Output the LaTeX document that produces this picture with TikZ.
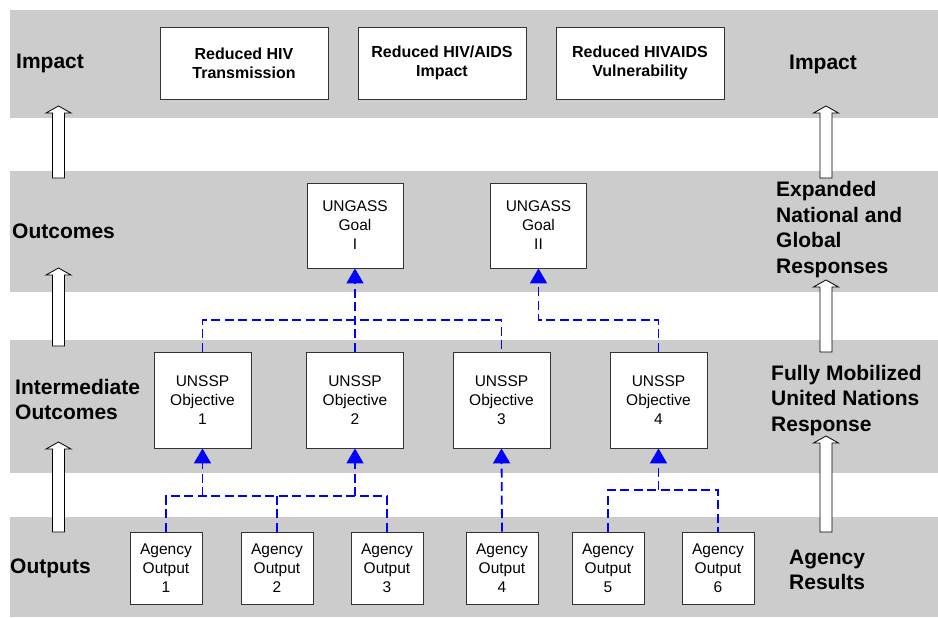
\documentclass[tikz,border=0pt]{standalone}
\usepackage{fontspec}
\setmainfont{Liberation Sans}
\usetikzlibrary{arrows.meta}
\definecolor{bandgray}{HTML}{CCCCCC}
\definecolor{conblue}{HTML}{0000FF}
\newcommand\hollowup[3]{%
  \draw[hollowarrow] ({#1-6},#3) -- ({#1-6},{#2+7}) -- ({#1-12.5},{#2+7}) -- (#1,#2)
    -- ({#1+12.5},{#2+7}) -- ({#1+6},{#2+7}) -- ({#1+6},#3) -- cycle;}
\begin{document}
\begin{tikzpicture}[x=1pt,y=-1pt,
  band/.style={fill=bandgray,draw=none},
  hollowarrow/.style={draw=black,fill=white,line width=0.8pt},
  basebox/.style={draw=black!80,fill=white,line width=0.9pt,inner sep=0pt,align=center},
  impbox/.style={basebox,minimum width=168pt,minimum height=72pt,font=\fontsize{16}{19}\selectfont\bfseries},
  goalbox/.style={basebox,minimum width=96pt,minimum height=85pt,font=\fontsize{15.5}{19}\selectfont},
  objbox/.style={basebox,minimum width=97pt,minimum height=96pt,font=\fontsize{15.5}{19}\selectfont},
  outbox/.style={basebox,minimum width=72pt,minimum height=72pt,font=\fontsize{15.5}{19}\selectfont},
  lvl/.style={anchor=west,inner sep=0pt,align=left,font=\fontsize{21}{25.5}\selectfont\bfseries},
  dcon/.style={draw=conblue,line width=1.8pt,dash pattern=on 9pt off 4.5pt},
  arr/.style={-{Triangle[width=17pt,length=15pt]}}]
\useasboundingbox (0,0) rectangle (938,618);
\fill[white] (0,0) rectangle (938,618);
% bands
\fill[band] (10,10) rectangle (938,118);
\fill[band] (10,171) rectangle (938,292);
\fill[band] (10,340) rectangle (938,473);
\fill[band] (10,517) rectangle (938,617);
% hollow arrows
\hollowup{58.5}{106}{178}
\hollowup{58.5}{268}{346}
\hollowup{58.5}{442}{532}
\hollowup{826}{106}{178}
\hollowup{826}{280}{352}
\hollowup{826}{436}{532}
% level labels
\node[lvl] (lImpact) at (16,63) {Impact};
\node[lvl] (lOutcomes) at (12,231) {Outcomes};
\node[lvl] (lInter) at (15,399.5) {Intermediate\\Outcomes};
\node[lvl] (lOutputs) at (10,568) {Outputs};
\node[lvl] (rImpact) at (789,64) {Impact};
\node[lvl] (rExp) at (776,229.5) {Expanded\\National and\\Global\\Responses};
\node[lvl] (rFully) at (771,400.5) {Fully Mobilized\\United Nations\\Response};
\node[lvl] (rAgency) at (789,570) {Agency\\Results};
% impact boxes
\node[impbox] (i1) at (244,63) {Reduced HIV\\Transmission};
\node[impbox] (i2) at (442,63) {Reduced HIV/AIDS\\Impact};
\node[impbox] (i3) at (640,63) {Reduced HIVAIDS\\Vulnerability};
% goals
\node[goalbox] (g1) at (355,225.5) {UNGASS\\Goal\\I};
\node[goalbox] (g2) at (538.5,225.5) {UNGASS\\Goal\\II};
% objectives
\node[objbox] (o1) at (202.5,400) {UNSSP\\Objective\\1};
\node[objbox] (o2) at (355,400) {UNSSP\\Objective\\2};
\node[objbox] (o3) at (501.5,400) {UNSSP\\Objective\\3};
\node[objbox] (o4) at (658.5,400) {UNSSP\\Objective\\4};
% outputs
\node[outbox] (a1) at (166,568) {Agency\\Output\\1};
\node[outbox] (a2) at (277,568) {Agency\\Output\\2};
\node[outbox] (a3) at (387,568) {Agency\\Output\\3};
\node[outbox] (a4) at (502,568) {Agency\\Output\\4};
\node[outbox] (a5) at (608,568) {Agency\\Output\\5};
\node[outbox] (a6) at (718,568) {Agency\\Output\\6};
% junction coordinates
\coordinate (jA) at (355,320);
\coordinate (jB) at (538.5,320);
\coordinate (jC) at (277,496);
\coordinate (jD) at (658.5,490);
% connectors
\draw[dcon] (o1.north) |- (jA) -| (o3.north);
\draw[dcon,arr] (o2.north) -- (g1.south);
\draw[dcon,arr] (o4.north) |- (jB) -- (g2.south);
\draw[dcon] (a1.north) |- (jC) -| (a3.north);
\draw[dcon] (a2.north) -- (jC);
\draw[dcon,arr] (o1.south |- jC) -- (o1.south);
\draw[dcon,arr] (o2.south |- jC) -- (o2.south);
\draw[dcon,arr] (a4.north) -- (o3.south);
\draw[dcon] (a5.north) |- (jD) -| (a6.north);
\draw[dcon,arr] (jD) -- (o4.south);
\end{tikzpicture}
\end{document}
